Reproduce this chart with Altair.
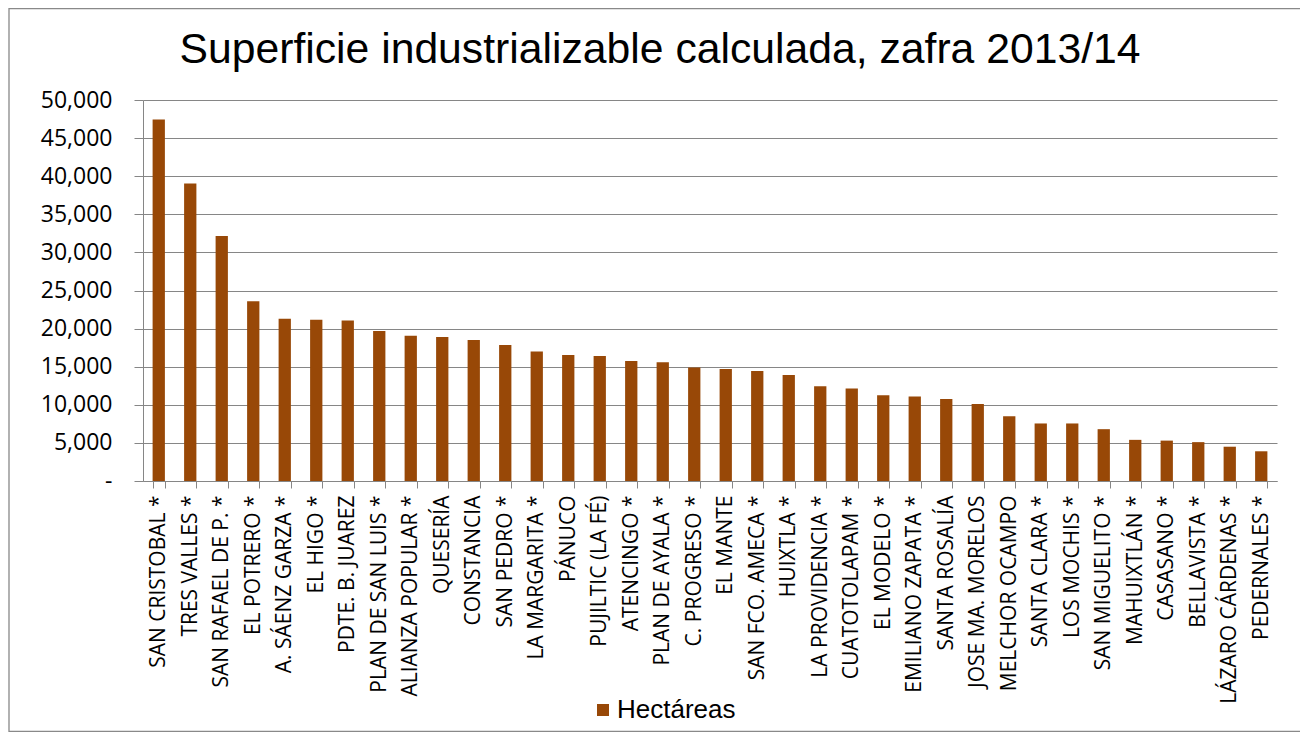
import altair as alt
import pandas as pd

ingenios = [
    "SAN CRISTOBAL *", "TRES VALLES *", "SAN RAFAEL DE P. *", "EL POTRERO *",
    "A. SÁENZ GARZA *", "EL HIGO *", "PDTE. B. JUAREZ", "PLAN DE SAN LUIS *",
    "ALIANZA POPULAR *", "QUESERÍA", "CONSTANCIA", "SAN PEDRO *",
    "LA MARGARITA *", "PÁNUCO", "PUJILTIC (LA FÉ)", "ATENCINGO *",
    "PLAN DE AYALA *", "C. PROGRESO *", "EL MANTE", "SAN FCO. AMECA *",
    "HUIXTLA *", "LA PROVIDENCIA *", "CUATOTOLAPAM *", "EL MODELO *",
    "EMILIANO ZAPATA *", "SANTA ROSALÍA", "JOSE MA. MORELOS", "MELCHOR OCAMPO",
    "SANTA CLARA *", "LOS MOCHIS *", "SAN MIGUELITO *", "MAHUIXTLÁN *",
    "CASASANO *", "BELLAVISTA *", "LÁZARO CÁRDENAS *", "PEDERNALES *",
]
hectareas = [
    47450, 39050, 32150, 23600, 21300, 21150, 21050, 19700, 19050, 18900,
    18500, 17850, 17000, 16550, 16400, 15750, 15600, 14900, 14700, 14450,
    13900, 12450, 12150, 11250, 11100, 10750, 10100, 8500, 7550, 7550,
    6800, 5400, 5300, 5100, 4500, 3900,
]
serie = "Hectáreas"
y_ticks = [0, 5000, 10000, 15000, 20000, 25000, 30000, 35000, 40000, 45000, 50000]
titulo = "Superficie industrializable calculada, zafra 2013/14"

df = pd.DataFrame({"ingenio": ingenios, "ha": hectareas, "serie": serie})

GRAY = "#868686"
BAR = "#984807"

bars = alt.Chart(df).mark_bar().encode(
    x=alt.X(
        "ingenio:N",
        sort=ingenios,
        scale=alt.Scale(paddingInner=0.61, paddingOuter=0.305),
        axis=alt.Axis(
            title=None, labelAngle=270, labelAlign="right", labelBaseline="middle",
            labelFont="Open Sans", labelFontSize=21, labelColor="black",
            labelPadding=7, labelLimit=0, labelOverlap=False, tickBand="extent",
            tickSize=7, tickColor=GRAY, tickWidth=1, domainColor=GRAY,
            domainWidth=1, grid=False,
        ),
    ),
    y=alt.Y(
        "ha:Q",
        scale=alt.Scale(domain=[0, 50000], nice=False),
        axis=alt.Axis(
            title=None, values=y_ticks,
            labelExpr="datum.value == 0 ? '-' : format(datum.value, ',')",
            labelFont="Open Sans", labelFontSize=23, labelColor="black",
            labelPadding=22, tickSize=9, tickColor=GRAY, tickWidth=1,
            domainColor=GRAY, domainWidth=1, grid=True, gridColor=GRAY,
            gridWidth=1,
        ),
    ),
    color=alt.Color(
        "serie:N",
        scale=alt.Scale(range=[BAR]),
        legend=alt.Legend(
            title=None, orient="none", legendX=447, legendY=597,
            symbolType="square", symbolSize=144, symbolStrokeWidth=0,
            labelFont="Liberation Sans", labelFontSize=26, labelColor="black",
            labelOffset=1, padding=0,
        ),
    ),
)

border = alt.Chart(pd.DataFrame({"k": [0]})).mark_rect(
    fill="transparent", stroke="#898989", strokeWidth=1.3
).encode(
    x=alt.value(-134), x2=alt.value(1170),
    y=alt.value(-91.5), y2=alt.value(631.5),
)

chart = alt.layer(border, bars).properties(
    width=1134,
    height=381,
    autosize=alt.AutoSizeParams(type="none"),
    padding={"left": 135, "top": 92, "right": 23, "bottom": 251},
    title=alt.TitleParams(
        text=titulo, font="Liberation Sans", fontSize=42.7, fontWeight="normal",
        color="black", anchor="middle", frame="group", dx=-50, offset=0,
        baseline="alphabetic", dy=98,
    ),
).configure_view(stroke="transparent")

chart.save("out.html", embed_options={"renderer": "svg", "actions": False})
